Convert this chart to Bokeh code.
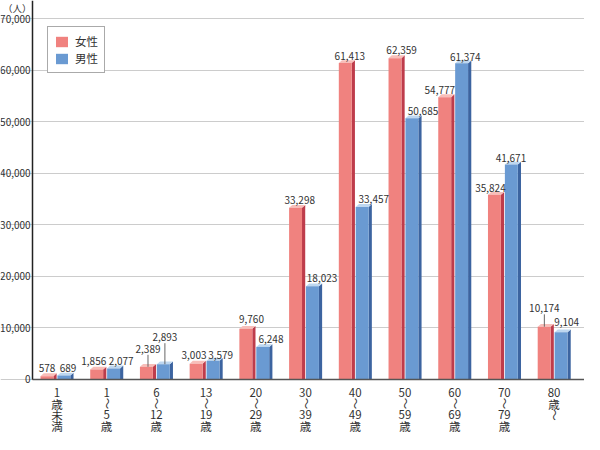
import math
from bokeh.plotting import figure
from bokeh.models import (ColumnDataSource, FixedTicker, NumeralTickFormatter,
                          Legend, LegendItem, LabelSet, Label, Range1d)
from bokeh.embed import file_html
from bokeh.resources import INLINE
from bokeh.core.properties import value

# ---------------- data ----------------
categories = ["1\n歳\n未\n満", "1\n～\n5\n歳", "6\n～\n12\n歳", "13\n～\n19\n歳",
              "20\n～\n29\n歳", "30\n～\n39\n歳", "40\n～\n49\n歳", "50\n～\n59\n歳",
              "60\n～\n69\n歳", "70\n～\n79\n歳", "80\n歳\n～"]
female = [578, 1856, 2389, 3003, 9760, 33298, 61413, 62359, 54777, 35824, 10174]
male = [689, 2077, 2893, 3579, 6248, 18023, 33457, 50685, 61374, 41671, 9104]
series_names = ["女性", "男性"]
y_ticks = [0, 10000, 20000, 30000, 40000, 50000, 60000, 70000]
unit_label = "（人）"

# label nudges (px): horizontal shift, height of label centre above bar top
female_dx = [-1.5, -4.5, 0, -3.7, 4, 2.6, 3, 5, -6.5, -5.6, -1.4]
female_dy = [8.6, 8.8, 18, 8.7, 9.6, 8.2, 7.4, 8, 7, 7, 18.4]
male_dx = [2.5, 6, 0, 6, 6.6, 8, 10, 9.5, 2, -2, 4]
male_dy = [8, 7.6, 27, 5.6, 7.6, 8, 8.3, 7, 6.7, 7, 10]
female_leader = [2, 10]
male_leader = [2]

# ---------------- styles / layout ----------------
F_FRONT, F_SIDE, F_TOP = "#F0827F", "#BE3C4B", "#F8BEB9"
M_FRONT, M_SIDE, M_TOP = "#6A9AD2", "#3C64A0", "#BED7F0"
TXT = "#333333"
FONT = "Noto Sans CJK JP"

W, H = 584, 434
px_x = 49.72            # px per category
px_y = 0.005147         # px per person
XL = -56.4 / px_x       # data x at canvas left
XR = XL + W / px_x      # data x at canvas right
YT = 378.6 / px_y       # data y at canvas top
YB = -(H - 378.6) / px_y
X_AXIS = (32.1 - 56.4) / px_x

p = figure(width=W, height=H, output_backend="svg", toolbar_location=None,
           x_range=Range1d(XL, XR), y_range=Range1d(YB, YT),
           min_border=0, min_border_left=0, min_border_right=0,
           min_border_top=0, min_border_bottom=0)
p.outline_line_color = None
p.background_fill_color = "white"
p.xgrid.grid_line_color = None
p.ygrid.ticker = FixedTicker(ticks=y_ticks)
p.ygrid.grid_line_color = "#CCCCCC"
p.ygrid.grid_line_width = 1
p.ygrid.bounds = (X_AXIS, XR)

p.yaxis.fixed_location = X_AXIS
p.yaxis.bounds = (0, YT)
p.yaxis.ticker = FixedTicker(ticks=y_ticks)
p.yaxis.formatter = NumeralTickFormatter(format="0,0")
p.yaxis.major_tick_line_color = None
p.yaxis.minor_tick_line_color = None
p.yaxis.major_tick_out = 0
p.yaxis.major_tick_in = 0
p.yaxis.major_label_standoff = 2
p.yaxis.major_label_text_font = FONT
p.yaxis.major_label_text_font_size = "10px"
p.yaxis.major_label_text_color = TXT
p.yaxis.axis_line_color = "#222222"
p.yaxis.axis_line_width = 1.5

p.xaxis.fixed_location = 0
p.xaxis.bounds = (X_AXIS, XR)
p.xaxis.ticker = FixedTicker(ticks=[])
p.xaxis.major_tick_line_color = None
p.xaxis.minor_tick_line_color = None
p.xaxis.major_label_text_font_size = "0px"
p.xaxis.axis_line_color = "#555555"
p.xaxis.axis_line_width = 1.5

ddx = 3.2 / px_x
ddy = 2.8 / px_y

def bars(vals, off0, off1, front, side, top):
    n = len(vals)
    xs0 = [i + off0 for i in range(n)]
    xs1 = [i + off1 for i in range(n)]
    src = ColumnDataSource(dict(left=xs0, right=xs1, top=vals, bottom=[0] * n))
    side_xs = [[b, b + ddx, b + ddx, b] for b in xs1]
    side_ys = [[0, 0, v + ddy, v] for v in vals]
    top_xs = [[a, b, b + ddx, a + ddx] for a, b in zip(xs0, xs1)]
    top_ys = [[v, v, v + ddy, v + ddy] for v in vals]
    p.patches(side_xs, side_ys, fill_color=side, line_color=None)
    p.patches(top_xs, top_ys, fill_color=top, line_color=None)
    r = p.quad(left="left", right="right", top="top", bottom="bottom", source=src,
               fill_color=front, line_color=None)
    return r, xs0, xs1

rf, fx0, fx1 = bars(female, -0.33, -0.07, F_FRONT, F_SIDE, F_TOP)
rm, mx0, mx1 = bars(male, 0.01, 0.27, M_FRONT, M_SIDE, M_TOP)

def value_labels(vals, xs0, xs1, dxs, dys, leaders):
    cx = [(a + b + ddx) / 2 for a, b in zip(xs0, xs1)]
    lx = [c + d / px_x for c, d in zip(cx, dxs)]
    ly = [v + d / px_y for v, d in zip(vals, dys)]
    txt = [f"{v:,}" for v in vals]
    p.text(lx, ly, text=txt, text_align="center", text_baseline="middle",
           text_font=value(FONT), text_font_size="10px", text_color=TXT)
    for i in leaders:
        p.segment(x0=[lx[i]], y0=[vals[i]], x1=[lx[i]], y1=[ly[i] - 6 / px_y],
                  line_color="#666666", line_width=1)

value_labels(female, fx0, fx1, female_dx, female_dy, female_leader)
value_labels(male, mx0, mx1, male_dx, male_dy, male_leader)

# category labels written vertically
cx_, cy_, ct_, ca_ = [], [], [], []
for i, lab in enumerate(categories):
    for k, part in enumerate(lab.split("\n")):
        cx_.append(i)
        cy_.append(-(13.0 + 11.4 * k) / px_y)
        ct_.append(part)
        ca_.append(math.pi / 2 if part == "～" else 0.0)
csrc = ColumnDataSource(dict(x=cx_, y=cy_, text=ct_, angle=ca_))
p.add_layout(LabelSet(x="x", y="y", text="text", angle="angle", source=csrc,
                      text_align="center", text_baseline="middle",
                      text_font=value(FONT), text_font_size="11.5px",
                      text_color=TXT))

# unit label
p.add_layout(Label(x=X_AXIS - 1 / px_x, y=YT - 7.7 / px_y, text=unit_label,
                   text_align="right", text_baseline="middle",
                   text_font=FONT, text_font_size="9.5px", text_color=TXT))

legend = Legend(items=[LegendItem(label=series_names[0], renderers=[rf]),
                       LegendItem(label=series_names[1], renderers=[rm])],
                location=(47, 361))
legend.label_text_font = FONT
legend.label_text_font_size = "11.5px"
legend.label_text_color = TXT
legend.glyph_width = 15
legend.glyph_height = 13
legend.label_standoff = 6
legend.padding = 6
legend.spacing = 1
legend.margin = 0
legend.border_line_color = "#555555"
legend.border_line_width = 1
legend.background_fill_color = "white"
legend.background_fill_alpha = 1
p.add_layout(legend)

open("out.html", "w").write(file_html(p, INLINE))
